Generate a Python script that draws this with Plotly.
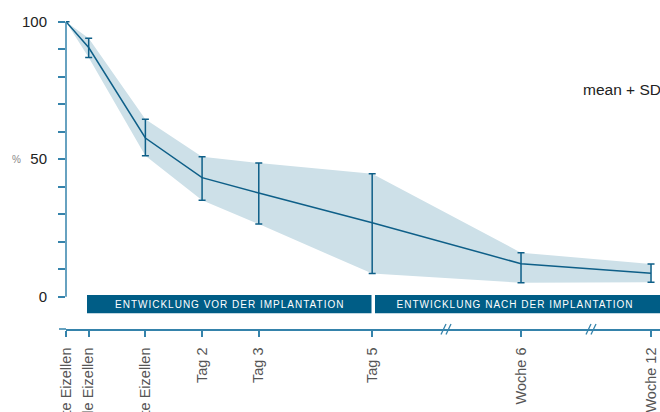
import plotly.graph_objects as go

# ---- data ----
stage_labels = ["Injizierte Eizellen", "Überlebende Eizellen", "Befruchtete Eizellen",
                "Tag 2", "Tag 3", "Tag 5", "Woche 6", "Woche 12"]
# position on a broken timeline axis (days, with compressed breaks before week 6 / week 12)
stage_pos = [-0.4, 0, 1, 2, 3, 5, 7.625, 9.918]
mean_vals = [100, 90.6, 57.7, 43.3, 37.7, 26.9, 12.0, 8.5]
upper_vals = [100, 94.0, 64.5, 50.9, 48.6, 44.7, 16.0, 11.9]
lower_vals = [100, 87.0, 51.3, 35.1, 26.4, 8.4, 5.1, 5.3]
y_tick_vals = [0, 10, 20, 30, 40, 50, 60, 70, 80, 90, 100]
y_tick_text = ["0", "", "", "", "", "50", "", "", "", "", "100"]
phase_labels = ["ENTWICKLUNG VOR DER IMPLANTATION", "ENTWICKLUNG NACH DER IMPLANTATION"]

LINE = "#0e5f88"
AXIS = "#3583ab"
BAND = "#cde0e8"
BANNER = "#005d86"
FONT = "Liberation Sans, Arial, sans-serif"

err_plus = [u - m for u, m in zip(upper_vals, mean_vals)]
err_minus = [m - l for m, l in zip(mean_vals, lower_vals)]
err_plus[0] = None
err_minus[0] = None

fig = go.Figure()
fig.add_trace(go.Scatter(x=stage_pos, y=upper_vals, mode="lines", line=dict(width=0),
                         hoverinfo="skip", showlegend=False))
fig.add_trace(go.Scatter(x=stage_pos, y=lower_vals, mode="lines", line=dict(width=0),
                         fill="tonexty", fillcolor=BAND, hoverinfo="skip", showlegend=False))
fig.add_trace(go.Scatter(x=stage_pos, y=mean_vals, mode="lines",
                         line=dict(color=LINE, width=1.5), showlegend=False,
                         error_y=dict(type="data", array=err_plus, arrayminus=err_minus,
                                      symmetric=False, color=LINE, thickness=1.5, width=3.5)))

W, H = 660, 412
ml, mr, mt, mb = 66, 0, 10, 83
pw = W - ml - mr
ph = H - mt - mb

def px_x(p):
    return (p - ml) / pw

def px_y(p):
    return (H - mb - p) / ph

shapes = []
# y axis line from 0 to 100
shapes.append(dict(type="line", xref="paper", yref="y", x0=0, x1=0, y0=0, y1=100,
                   line=dict(color=AXIS, width=1.5)))
# x axis extension to the left
shapes.append(dict(type="line", xref="paper", yref="paper", x0=px_x(59), x1=0, y0=0, y1=0,
                   line=dict(color=AXIS, width=1.5)))
# break marks
for bx in [441, 586]:
    for off in [0, 5]:
        shapes.append(dict(type="line", xref="paper", yref="paper",
                           x0=px_x(bx + off), x1=px_x(bx + off + 5),
                           y0=px_y(334.5), y1=px_y(324),
                           line=dict(color=AXIS, width=1.3)))
# phase banners
banner_px = [(87, 371.5), (375, 660)]
for x0, x1 in banner_px:
    shapes.append(dict(type="rect", xref="paper", yref="paper", x0=px_x(x0), x1=px_x(x1),
                       y0=px_y(313.3), y1=px_y(295), fillcolor=BANNER, line=dict(width=0),
                       layer="above"))

annotations = []
for (x0, x1), txt, cx in zip(banner_px, phase_labels, [229, 515]):
    annotations.append(dict(text=txt, xref="paper", yref="paper", x=px_x(cx), y=px_y(304.5),
                            showarrow=False, xanchor="center", yanchor="middle",
                            font=dict(family=FONT, size=10, color="white")))
annotations.append(dict(text="%", xref="paper", yref="y", x=px_x(16), y=50, showarrow=False,
                        xanchor="center", yanchor="middle",
                        font=dict(family=FONT, size=10, color="#888888")))
annotations.append(dict(text="mean + SD", xref="paper", yref="y", x=px_x(580.5), y=75.2,
                        showarrow=False, xanchor="left", yanchor="middle",
                        font=dict(family=FONT, size=15.5, color="#222222")))

y_bottom = (296.7 - (H - mb)) / 2.75
y_top = (296.7 - mt) / 2.75

fig.update_layout(
    width=W, height=H, margin=dict(l=ml, r=mr, t=mt, b=mb, autoexpand=False),
    template="none", paper_bgcolor="white", plot_bgcolor="white",
    font=dict(family=FONT),
    shapes=shapes, annotations=annotations, showlegend=False,
    xaxis=dict(range=[-0.4, -0.4 + pw / 56.7], tickvals=stage_pos, ticktext=stage_labels,
               tickangle=-90, ticks="outside", ticklen=6, tickwidth=1.5, tickcolor=AXIS,
               showline=True, linecolor=AXIS, linewidth=1.5, showgrid=False, zeroline=False,
               automargin=False, ticklabelstandoff=5,
               tickfont=dict(family=FONT, size=14.5, color="#555555")),
    yaxis=dict(range=[y_bottom, y_top], tickvals=y_tick_vals, ticktext=y_tick_text,
               ticks="outside", ticklen=7, tickwidth=1.5, tickcolor=AXIS,
               showline=False, showgrid=False, zeroline=False, automargin=False,
               ticklabelstandoff=8,
               tickfont=dict(family=FONT, size=15, color="#222222")),
)

post = """
document.body.style.margin = '0';
document.body.style.padding = '0';
var gd = document.getElementById('{plot_id}');
function ls(){
  gd.querySelectorAll('text.annotation-text').forEach(function(t){
    if (t.textContent.indexOf('ENTWICKLUNG') >= 0) { t.style.letterSpacing = '1px'; }
  });
}
ls();
if (gd.on) { gd.on('plotly_afterplot', ls); }
setTimeout(ls, 30);
"""

fig.write_html("out.html", post_script=post, config={"displayModeBar": False})
